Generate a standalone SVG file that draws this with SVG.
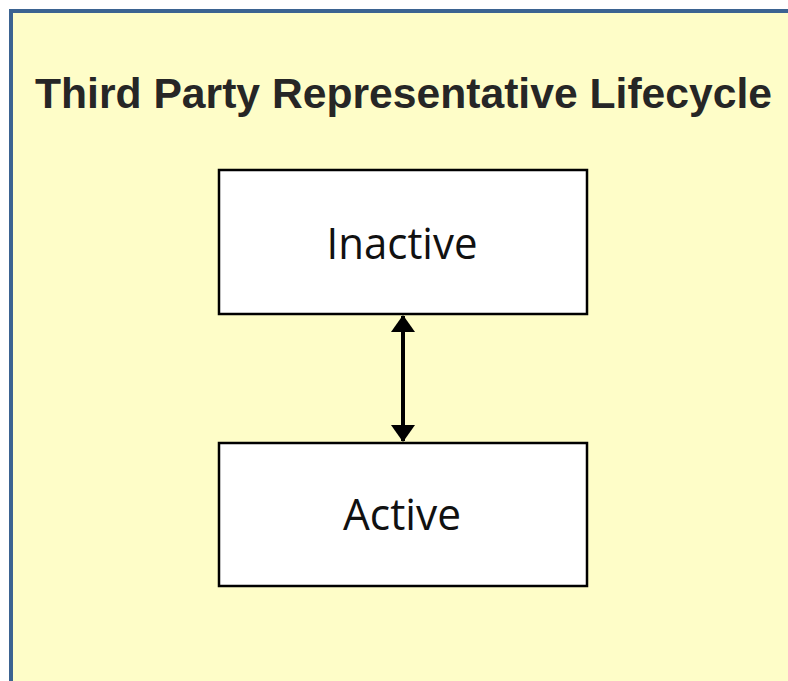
<svg xmlns="http://www.w3.org/2000/svg" width="788" height="681" viewBox="0 0 788 681">
<style>
.node rect{fill:#ffffff;stroke:#000000;stroke-width:2.5}
.node text{font-family:"Open Sans","Noto Sans",sans-serif;font-size:44px;fill:#111111;text-anchor:middle}
.title{font-family:"Liberation Sans",Arial,sans-serif;font-weight:bold;font-size:43px;fill:#262626}
.conn{stroke:#000000;stroke-width:4;fill:none}
</style>
<defs>
<marker id="ah" viewBox="0 0 17 24" refX="16" refY="12" markerWidth="17" markerHeight="24" markerUnits="userSpaceOnUse" orient="auto-start-reverse">
<path d="M0,0 L17,12 L0,24 z" fill="#000000"/>
</marker>
</defs>
<rect x="0" y="0" width="788" height="681" fill="#ffffff"/>
<rect x="11" y="11" width="790" height="690" fill="#fefdc8" stroke="#3b6391" stroke-width="4"/>
<text class="title" x="35" y="108" textLength="737" lengthAdjust="spacingAndGlyphs">Third Party Representative Lifecycle</text>
<g id="inactive" class="node">
<rect x="219" y="170" width="368" height="144"/>
<text x="402" y="259" textLength="151" lengthAdjust="spacingAndGlyphs">Inactive</text>
</g>
<g id="active" class="node">
<rect x="219" y="443" width="368" height="143"/>
<text x="402" y="530" textLength="118" lengthAdjust="spacingAndGlyphs">Active</text>
</g>
<g id="connectors">
<line class="conn" x1="403" y1="316" x2="403" y2="441" marker-start="url(#ah)" marker-end="url(#ah)"/>
</g>
</svg>
